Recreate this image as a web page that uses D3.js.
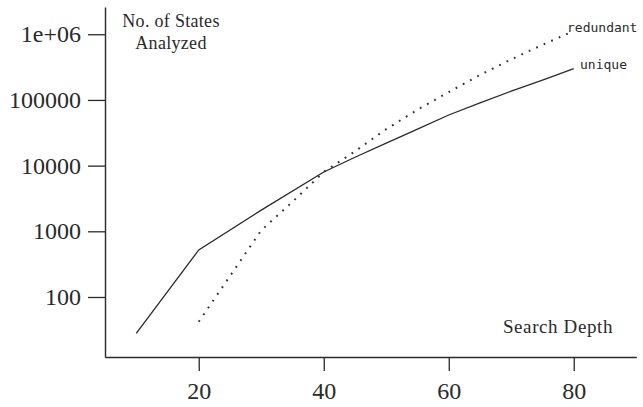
<!DOCTYPE html>
<html>
<head>
<meta charset="utf-8">
<script src="https://cdn.jsdelivr.net/npm/d3@7"></script>
<style>
  body { margin: 0; background: #fff; }
  svg { display: block; }
</style>
</head>
<body>
<svg width="643" height="407"></svg>
<script>
// search depth vs number of states analysed (log scale)
const uniqueDepth = [10, 20, 30, 40, 45, 50, 55, 60, 65, 70, 75, 80];
const uniqueStates = [28, 520, 2100, 8000, 13400, 22000, 36000, 59000, 90000, 136000, 200000, 300000];
const redundantDepth = [20, 30, 35, 40, 45, 50, 55, 60, 65, 70, 75, 80];
const redundantStates = [42, 1035, 2820, 8000, 16500, 36000, 71000, 132000, 240000, 415000, 690000, 1120000];
const xTicks = [20, 40, 60, 80];
const yTicks = [100, 1000, 10000, 100000, 1000000];
const yTickLabels = ['100', '1000', '10000', '100000', '1e+06'];

const svg = d3.select('svg');
const ink = '#2a2a2a';

const x = d3.scaleLinear().domain([5, 90]).range([105, 636.25]);
const y = d3.scaleLog().domain([12.2, 2.6e6]).range([357, 7]);

// axes
const xAxis = svg.append('g')
  .attr('transform', 'translate(0,357)')
  .call(d3.axisBottom(x).tickValues(xTicks).tickSizeInner(14).tickSizeOuter(0).tickPadding(11));
const yAxis = svg.append('g')
  .attr('transform', 'translate(105,0)')
  .call(d3.axisLeft(y).tickValues(yTicks).tickFormat((d, i) => yTickLabels[i])
    .tickSizeInner(17).tickSizeOuter(0).tickPadding(7));

[xAxis, yAxis].forEach(g => {
  g.select('.domain').attr('stroke', ink).attr('stroke-width', 1.4);
  g.selectAll('.tick line').attr('stroke', ink).attr('stroke-width', 1.3);
  g.selectAll('.tick text')
    .attr('fill', ink)
    .style('font-family', '"Liberation Serif", serif')
    .style('font-size', '24px');
});

// lines
const line = d3.line().x(d => x(d[0])).y(d => y(d[1]));

svg.append('path')
  .datum(d3.zip(uniqueDepth, uniqueStates))
  .attr('d', line)
  .attr('fill', 'none')
  .attr('stroke', ink)
  .attr('stroke-width', 1.3);

svg.append('path')
  .datum(d3.zip(redundantDepth, redundantStates))
  .attr('d', line)
  .attr('fill', 'none')
  .attr('stroke', '#333')
  .attr('stroke-width', 2)
  .attr('stroke-dasharray', '1.8,6.4');

// labels
const serif = '"Liberation Serif", serif';
svg.append('text').attr('x', 171).attr('y', 27).attr('text-anchor', 'middle')
  .style('font-family', serif).style('font-size', '18px').style('letter-spacing', '0.3px')
  .attr('fill', ink).text('No. of States');
svg.append('text').attr('x', 171).attr('y', 49).attr('text-anchor', 'middle')
  .style('font-family', serif).style('font-size', '18px').style('letter-spacing', '0.3px')
  .attr('fill', ink).text('Analyzed');
svg.append('text').attr('x', 613).attr('y', 333).attr('text-anchor', 'end')
  .style('font-family', serif).style('font-size', '19px').style('letter-spacing', '0.6px')
  .attr('fill', ink).text('Search Depth');

svg.append('text').attr('x', 567).attr('y', 32)
  .style('font-family', '"DejaVu Sans Mono", monospace').style('font-size', '13px')
  .attr('fill', ink).text('redundant');
svg.append('text').attr('x', 580).attr('y', 69)
  .style('font-family', '"DejaVu Sans Mono", monospace').style('font-size', '13px')
  .attr('fill', ink).text('unique');
</script>
</body>
</html>
